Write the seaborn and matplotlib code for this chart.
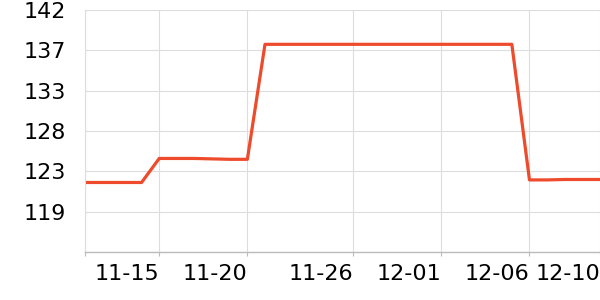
import matplotlib
matplotlib.use("Agg")
import matplotlib.pyplot as plt
import matplotlib.dates as mdates
import seaborn as sns
import pandas as pd
import numpy as np

# ---- data ----
dates = pd.date_range("2023-11-10", "2023-12-10", freq="D")
values = [121.9, 121.9, 121.9, 121.9, 121.9,                # 11-10 .. 11-14
          124.7, 124.7, 124.7, 124.65, 124.6, 124.6,        # 11-15 .. 11-20
          138.0, 138.0, 138.0, 138.0, 138.0, 138.0, 138.0,  # 11-21 .. 11-27
          138.0, 138.0, 138.0, 138.0, 138.0, 138.0, 138.0,  # 11-28 .. 12-04
          138.0,                                            # 12-05
          122.2, 122.2, 122.25, 122.25, 122.25]             # 12-06 .. 12-10
x_tick_dates = ["2023-11-15", "2023-11-20", "2023-11-26", "2023-12-01", "2023-12-06", "2023-12-10"]
x_tick_labels = ["11-15", "11-20", "11-26", "12-01", "12-06", "12-10"]
y_min, y_max = 113.8, 142.0
y_tick_labels = ["", "119", "123", "128", "133", "137", "142"]

df = pd.DataFrame({"date": dates, "value": values})

sns.set_theme(style="white")
plt.rcParams["font.family"] = ["DejaVu Sans"]

fig = plt.figure(figsize=(6, 3), dpi=100)
ax = fig.add_axes([85 / 600, 48 / 300, 515 / 600, 242 / 300])

sns.lineplot(data=df, x="date", y="value", ax=ax, color="#ee4a2c", linewidth=2.3, clip_on=True)

x_left = pd.Timestamp("2023-11-10 19:00")
x_right = pd.Timestamp("2023-12-10 00:00")
ax.set_xlim(x_left, x_right)
ax.set_ylim(y_min, y_max)

xt = [x_left] + [pd.Timestamp(d) for d in x_tick_dates]
ax.set_xticks(xt)
ax.set_xticklabels([""] + x_tick_labels, fontsize=16, ha="right", color="black")

yt = np.linspace(y_min, y_max, len(y_tick_labels))
ax.set_yticks(yt)
ax.set_yticklabels(y_tick_labels, fontsize=16, color="black")

ax.grid(True, color="#dddddd", linewidth=0.8)
ax.set_axisbelow(True)
ax.set_xlabel("")
ax.set_ylabel("")

for s in ["top", "right"]:
    ax.spines[s].set_visible(False)
ax.spines["left"].set_color("#dddddd")
ax.spines["left"].set_linewidth(0.8)
ax.spines["bottom"].set_color("#bbbbbb")
ax.spines["bottom"].set_linewidth(1.0)

ax.tick_params(axis="x", length=3, width=0.8, color="#bbbbbb", pad=6, bottom=True)
ax.tick_params(axis="y", length=0, pad=14)

fig.savefig("out.png", dpi=100, facecolor="white")
